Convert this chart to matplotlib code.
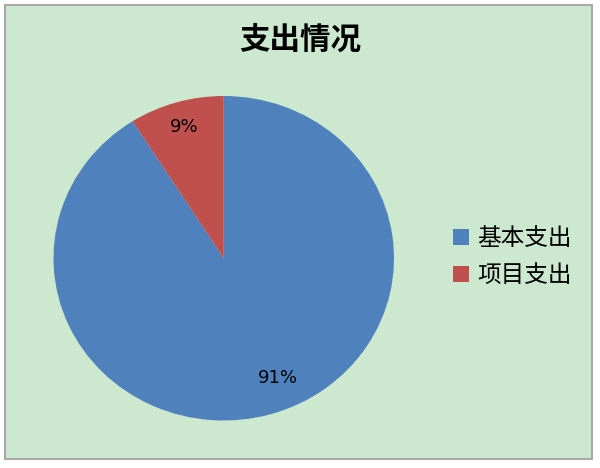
import numpy as np
import matplotlib
matplotlib.use("Agg")
import matplotlib.pyplot as plt
from matplotlib.patches import Rectangle

plt.rcParams['font.family'] = ['Noto Sans CJK SC', 'DejaVu Sans']

# data
labels = ['基本支出', '项目支出']
values = [91, 9]
colors = ['#4F81BD', '#C0504D']
title = '支出情况'

W, H = 600, 468
fig = plt.figure(figsize=(W / 100, H / 100), dpi=100, facecolor='white')

# chart area background with gray border
fig.patches.append(Rectangle((5 / W, 1 - 459 / H), 587 / W, 454 / H,
                             transform=fig.transFigure, facecolor='#CCE8CF',
                             edgecolor='#A8A8A8', linewidth=1.5, zorder=-5))

# pie bounding box in pixels (slightly wider than tall in the reference)
left, right, top, bottom = 53.5, 394, 96, 420.5
ax = fig.add_axes([left / W, 1 - bottom / H, (right - left) / W, (bottom - top) / H])
wedges, _ = ax.pie(values, colors=colors, startangle=90, counterclock=False,
                   wedgeprops=dict(linewidth=0))
ax.set_aspect('auto')
ax.set_xlim(-1, 1)
ax.set_ylim(-1, 1)
ax.axis('off')

# percentage labels, placed from each wedge's angles
lab_r = [0.80, 0.84]
lab_shift = [7, 0]
total = sum(values)
for w, v, r, s in zip(wedges, values, lab_r, lab_shift):
    mid = np.deg2rad((w.theta1 + w.theta2) / 2 + s)
    ax.text(r * np.cos(mid), r * np.sin(mid), f'{round(100 * v / total)}%',
            ha='center', va='center', fontsize=13, family='DejaVu Sans', color='black')

fig.text(300 / W, 1 - 40 / H, title, ha='center', va='center',
         fontsize=22, fontweight='bold')

leg = fig.legend(wedges, labels, loc='center left', bbox_to_anchor=(441 / W, 1 - 257 / H),
                 frameon=False, fontsize=17, handlelength=0.68, handleheight=0.68,
                 handletextpad=0.35, labelspacing=0.6, borderpad=0)

fig.savefig('out.png', dpi=100, facecolor='white')
